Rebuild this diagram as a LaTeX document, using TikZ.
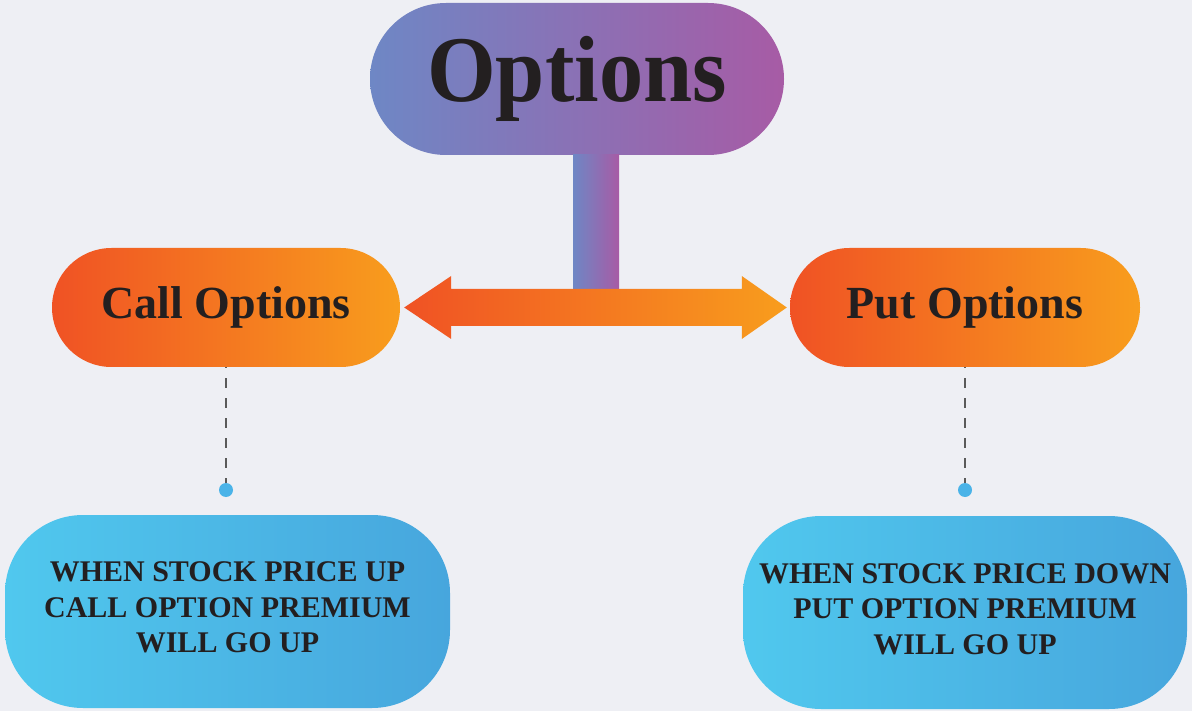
\documentclass[tikz,border=0pt]{standalone}
\usepackage{fontspec}
\setmainfont{Liberation Serif}
\usetikzlibrary{shapes.misc,calc}
\definecolor{bg}{HTML}{EEEFF4}
\definecolor{opL}{HTML}{6E87C5}
\definecolor{opR}{HTML}{A75BA5}
\definecolor{orL}{HTML}{F05224}
\definecolor{orR}{HTML}{F89D1D}
\definecolor{blL}{HTML}{50C8EE}
\definecolor{blR}{HTML}{47A6DD}
\definecolor{txt}{HTML}{231F20}
\definecolor{dashc}{HTML}{5A5A5A}
\definecolor{dotc}{HTML}{4AB3E8}
\tikzset{
  pill/.style={rounded rectangle, inner sep=0pt, text=txt, font=\bfseries},
  orangepill/.style={pill, left color=orL, right color=orR, minimum height=119pt, font=\bfseries\fontsize{46}{50}\selectfont},
  bluebox/.style={rectangle, rounded corners=78pt, left color=blL, right color=blR, minimum height=193pt, inner sep=0pt},
  boxtext/.style={align=center, text=txt, font=\bfseries\fontsize{30}{35.5}\selectfont, inner sep=0pt},
  dashline/.style={draw=dashc, line width=2.5pt, dash pattern=on 10pt off 10pt, dash phase=9pt},
  dotstyle/.style={circle, fill=dotc, minimum size=14pt, inner sep=0pt},
}
\begin{document}
\begin{tikzpicture}[x=1pt,y=-1pt]
\fill[bg] (0,0) rectangle (1192,711);
\useasboundingbox (0,0) rectangle (1192,711);
% main title
\node[pill, left color=opL, right color=opR, minimum width=414pt, minimum height=152pt,
      font=\bfseries\fontsize{94}{100}\selectfont] (opt) at (577,79) {\scalebox{0.94}[1]{Options}};
% orange pills
\node[orangepill, minimum width=348pt] (call) at (226,307.5) {Call Options};
\node[orangepill, minimum width=350pt] (put) at (965,307.5) {Put Options};
% stem
\coordinate (st) at (596,155);
\coordinate (sb) at (596,289.5);
\shade[left color=opL, right color=opR] ([xshift=-23pt]st) rectangle ([xshift=23pt]sb);
% double arrow
\coordinate (lt) at ([xshift=4pt]call.east);
\coordinate (rt) at ([xshift=-3pt]put.west);
\shade[left color=orL, right color=orR]
  (lt) -- ($(lt)+(47,-31.5)$) -- ($(lt)+(47,-18.5)$) -- ($(rt)+(-45,-18.5)$) -- ($(rt)+(-45,-31.5)$)
  -- (rt) -- ($(rt)+(-45,31.5)$) -- ($(rt)+(-45,18.5)$) -- ($(lt)+(47,18.5)$) -- ($(lt)+(47,31.5)$) -- cycle;
% dashed connectors and dots
\node[dotstyle] (dl) at (226,490) {};
\node[dotstyle] (dr) at (965,490) {};
\draw[dashline] (call.south) -- (dl.north);
\draw[dashline] (put.south) -- (dr.north);
% blue boxes
\node[bluebox, minimum width=445pt] (lbox) at (227.5,611.5) {};
\node[bluebox, minimum width=444pt] (rbox) at (965,612.5) {};
\node[boxtext] (ltext) at ([yshift=4pt]lbox.center) {WHEN STOCK PRICE UP\\CALL OPTION PREMIUM\\WILL GO UP};
\node[boxtext] (rtext) at ([yshift=3.5pt]rbox.center) {WHEN STOCK PRICE DOWN\\PUT OPTION PREMIUM\\WILL GO UP};
\end{tikzpicture}
\end{document}
